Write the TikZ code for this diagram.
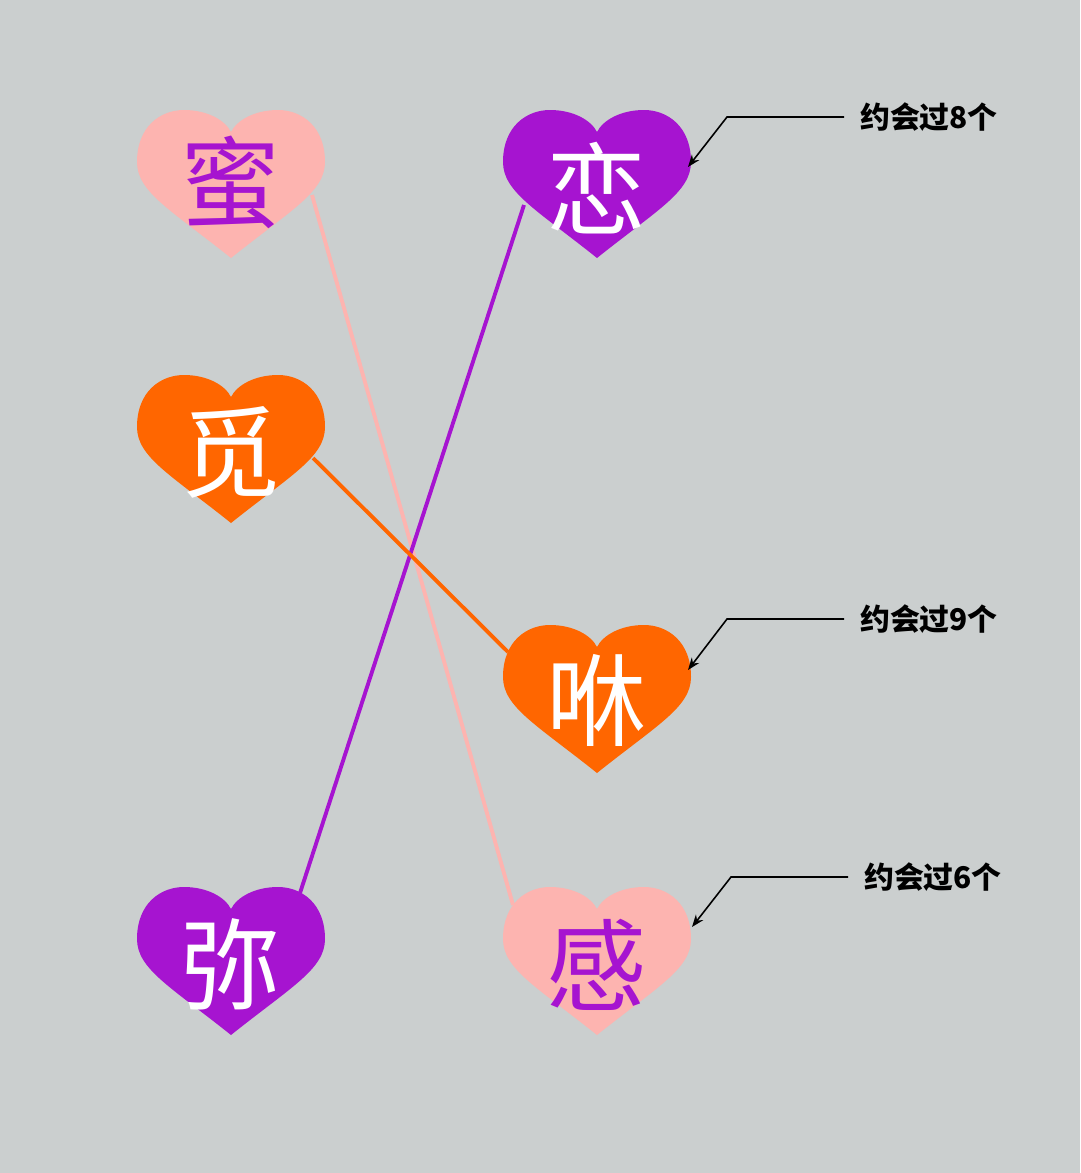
\documentclass[tikz,border=0pt]{standalone}
\usepackage{fontspec}
\newfontfamily\cjk{Noto Sans CJK SC}
\usetikzlibrary{arrows.meta}
\definecolor{bg}{HTML}{CBCFCF}
\definecolor{hpink}{HTML}{FDB4B0}
\definecolor{hpurple}{HTML}{A614D0}
\definecolor{horange}{HTML}{FF6600}
\tikzset{
  heart/.pic={\fill[pic actions] (0,148) .. controls (-60,100) and (-94,82) .. (-94,52) .. controls (-94,16) and (-70,0) .. (-47,0) .. controls (-24,0) and (-6,10) .. (0,22) .. controls (6,10) and (24,0) .. (47,0) .. controls (70,0) and (94,16) .. (94,52) .. controls (94,82) and (60,100) .. (0,148) -- cycle;},
  glyph/.style={font=\cjk\fontsize{57}{57}\selectfont},
  note/.style={font=\cjk\fontsize{17}{17}\selectfont\bfseries,inner sep=1pt},
  link/.style={line width=2.2pt},
  call/.style={line width=0.9pt,-{Stealth[length=7pt]}}
}
\begin{document}
\begin{tikzpicture}[x=0.02cm,y=-0.02cm]
\fill[bg] (0,0) rectangle (1080,1173);
\useasboundingbox (0,0) rectangle (1080,1173);
\coordinate (p1) at (312,195); \coordinate (p2) at (513,905);
\coordinate (q1) at (300,893); \coordinate (q2) at (524,205);
\coordinate (o1) at (313,458); \coordinate (o2) at (508,652);
\draw[link,hpink] (p1) -- (p2);
\draw[link,hpurple] (q1) -- (q2);
\draw[link,horange] (o1) -- (o2);
\pic[fill=hpink] at (231,110) {heart};
\pic[fill=horange] at (231,375) {heart};
\pic[fill=hpurple] at (231,887) {heart};
\pic[fill=hpurple] at (597,110) {heart};
\pic[fill=horange] at (597,625) {heart};
\pic[fill=hpink] at (597,887) {heart};
\node[glyph,text=hpurple] (mi) at (231,182) {蜜};
\node[glyph,text=white] (mi2) at (231,452) {觅};
\node[glyph,text=white] (mi3) at (231,964) {弥};
\node[glyph,text=white] (lian) at (597,188) {恋};
\node[glyph,text=white] (xiu) at (597,700) {咻};
\node[glyph,text=hpurple] (gan) at (597,965) {感};
\node[note] (n1) at (929,117) {约会过8个};
\node[note] (n2) at (929,619) {约会过9个};
\node[note] (n3) at (933,877) {约会过6个};
\coordinate (a1) at (688,167); \coordinate (a2) at (688,670); \coordinate (a3) at (692,927);
\draw[call] ([xshift=-8pt]n1.west) -- (727,117) -- (a1);
\draw[call] ([xshift=-8pt]n2.west) -- (727,619) -- (a2);
\draw[call] ([xshift=-8pt]n3.west) -- (731,877) -- (a3);
\end{tikzpicture}
\end{document}
